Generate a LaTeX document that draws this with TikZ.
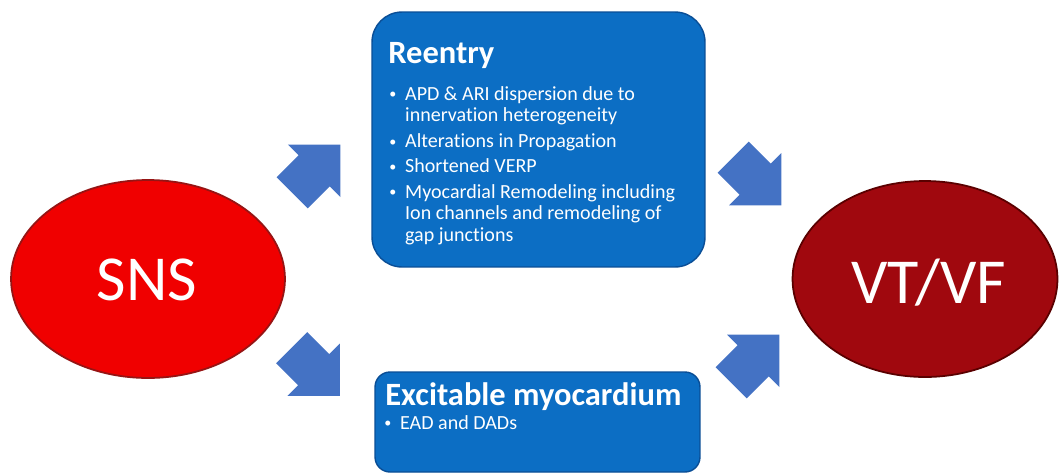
\documentclass[tikz,border=0pt]{standalone}
\usepackage{fontspec}
\setmainfont{Carlito}[Ligatures=NoCommon]
\usetikzlibrary{shapes.geometric}
\definecolor{boxblue}{RGB}{12,110,196}
\definecolor{boxedge}{RGB}{10,78,150}
\definecolor{arrowblue}{RGB}{68,114,196}
\definecolor{snsred}{RGB}{240,0,0}
\definecolor{snsedge}{RGB}{150,20,20}
\definecolor{vtred}{RGB}{160,8,14}
\definecolor{vtedge}{RGB}{90,0,0}
\newcommand\bitem[1]{\par\hangindent=9pt\hangafter=1\noindent\makebox[9pt][l]{\raisebox{0.6pt}{\fontsize{8}{8}\selectfont\textbullet}}#1}
\tikzset{
  x=0.02cm, y=-0.02cm,
  oval/.style={ellipse, line width=1pt, text=white, inner sep=0pt},
  infobox/.style={rectangle, fill=boxblue, draw=boxedge, line width=0.8pt},
  boxtitle/.style={anchor=base west, text=white, inner sep=0pt, font=\bfseries\fontsize{18.5}{21}\selectfont},
  boxtext/.style={anchor=base west, text=white, inner sep=0pt, font=\fontsize{11.4}{12.3}\selectfont},
  bigtext/.style={text=white, inner sep=0pt, font=\fontsize{36.5}{40}\selectfont},
  barrow/.pic={\fill[arrowblue] (-23,-22) -- (8,-22) -- (8,-37) -- (45,0) -- (8,37) -- (8,22) -- (-23,22) -- cycle;}
}
\begin{document}
\begin{tikzpicture}
\useasboundingbox[fill=white] (0,0) rectangle (1060,474);
% ovals
\node[oval, fill=snsred, draw=snsedge, minimum width=5.48cm, minimum height=3.96cm] (sns) at (148,279) {};
\node[bigtext] (snstext) at (147,280) {SNS};
\node[oval, fill=vtred, draw=vtedge, minimum width=5.3cm, minimum height=3.92cm] (vt) at (925,279) {};
\node[bigtext] (vttext) at (929,283) {VT/VF};
% boxes
\node[infobox, rounded corners=0.6cm, minimum width=6.66cm, minimum height=5.1cm] (reentry) at (538.5,139.5) {};
\node[boxtitle] (reentrytitle) at (388,63) {Reentry};
\node[boxtext] (reentrylist) at (389,100) {\parbox[t]{7cm}{\setlength{\parskip}{2.2pt}%
\bitem{APD \& ARI dispersion due to\\innervation heterogeneity}
\bitem{Alterations in Propagation}
\bitem{Shortened VERP}
\bitem{Myocardial Remodeling including\\Ion channels and remodeling of\\gap junctions}}};
\node[infobox, rounded corners=0.3cm, minimum width=6.5cm, minimum height=2.0cm] (excit) at (537.5,422) {};
\node[boxtitle] (excittitle) at (385,405) {Excitable myocardium};
\node[boxtext] (excitlist) at (384,429) {\parbox[t]{5cm}{\bitem{EAD and DADs}}};
% block arrows
\pic[rotate=45] at (308.5,176.5) {barrow};
\pic[rotate=-45] at (308,364) {barrow};
\pic[rotate=-45] at (749.5,173.5) {barrow};
\pic[rotate=45] at (747.5,366.5) {barrow};
\end{tikzpicture}
\end{document}
